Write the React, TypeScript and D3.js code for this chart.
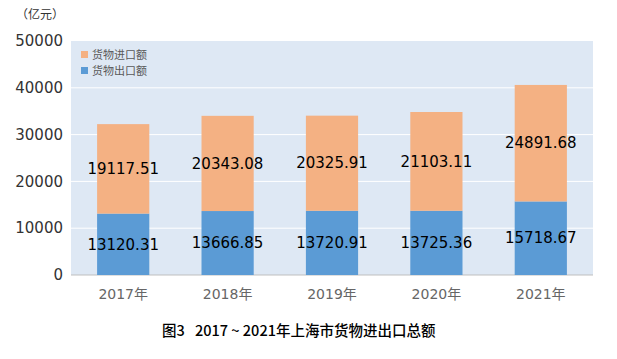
import React from "react";
import * as d3 from "d3";

const years = ["2017年", "2018年", "2019年", "2020年", "2021年"];
const exportVals = [13120.31, 13666.85, 13720.91, 13725.36, 15718.67];
const importVals = [19117.51, 20343.08, 20325.91, 21103.11, 24891.68];
const yTicks = [0, 10000, 20000, 30000, 40000, 50000];

const W = 617;
const H = 359;
const margin = { top: 41, right: 24, bottom: 84, left: 71 };

export default function App() {
  const x = d3
    .scaleBand()
    .domain(years)
    .range([margin.left, W - margin.right])
    .paddingInner(0.5)
    .paddingOuter(0.25);

  const y = d3
    .scaleLinear()
    .domain([0, 50000])
    .range([H - margin.bottom, margin.top]);

  const font = "'DejaVu Sans', 'Noto Sans CJK SC', sans-serif";
  const cjk = "'Noto Sans CJK SC', sans-serif";

  return (
    <svg
      width={W}
      height={H}
      style={{ position: "absolute", left: 0, top: 0, background: "#fff" }}
    >
      {/* plot background */}
      <rect
        x={margin.left}
        y={margin.top}
        width={W - margin.left - margin.right}
        height={H - margin.top - margin.bottom}
        fill="#dee8f4"
      />
      {yTicks.map((t) => (
        <g key={t}>
          {t > 0 && t < 50000 && (
            <line
              x1={margin.left}
              x2={W - margin.right}
              y1={y(t)}
              y2={y(t)}
              stroke="#fff"
              strokeWidth={1}
            />
          )}
          <text
            x={margin.left - 8}
            y={y(t)}
            dy="0.35em"
            textAnchor="end"
            fontFamily={font}
            fontSize={15}
            fill="#333"
          >
            {t}
          </text>
        </g>
      ))}
      <line
        x1={margin.left}
        x2={W - margin.right}
        y1={y(0)}
        y2={y(0)}
        stroke="#bfbfbf"
      />

      {years.map((yr, i) => {
        const bx = x(yr)!;
        const bw = x.bandwidth();
        const e = exportVals[i];
        const im = importVals[i];
        return (
          <g key={yr}>
            <rect x={bx} y={y(e)} width={bw} height={y(0) - y(e)} fill="#5b9bd5" />
            <rect
              x={bx}
              y={y(e + im)}
              width={bw}
              height={y(e) - y(e + im)}
              fill="#f4b183"
            />
            <text
              x={bx + bw / 2}
              y={(y(0) + y(e)) / 2}
              dy="0.35em"
              textAnchor="middle"
              fontFamily={font}
              fontSize={15}
              fill="#000"
            >
              {e.toFixed(2)}
            </text>
            <text
              x={bx + bw / 2}
              y={(y(e) + y(e + im)) / 2}
              dy="0.35em"
              textAnchor="middle"
              fontFamily={font}
              fontSize={15}
              fill="#000"
            >
              {im.toFixed(2)}
            </text>
            <text
              x={bx + bw / 2}
              y={y(0) + 19}
              dy="0.35em"
              textAnchor="middle"
              fontFamily={font}
              fontSize={14}
              fill="#666"
            >
              {yr}
            </text>
          </g>
        );
      })}

      {/* legend */}
      <rect x={81} y={51} width={7} height={7} fill="#f4b183" />
      <text x={92} y={55} dy="0.35em" fontFamily={cjk} fontSize={11} fill="#595959">
        货物进口额
      </text>
      <rect x={81} y={67} width={7} height={7} fill="#5b9bd5" />
      <text x={92} y={71} dy="0.35em" fontFamily={cjk} fontSize={11} fill="#595959">
        货物出口额
      </text>

      <text x={16} y={15} dy="0.35em" fontFamily={cjk} fontSize={12} fill="#333">
        （亿元）
      </text>

      <text
        x={162}
        y={331}
        dy="0.35em"
        fontFamily={cjk}
        fontSize={14.5}
        fontWeight={500}
        fill="#000"
      >
        图3
      </text>
      <text
        x={195}
        y={331}
        dy="0.35em"
        fontFamily={cjk}
        fontSize={14.5}
        fontWeight={500}
        fill="#000"
      >
        2017 ~ 2021年上海市货物进出口总额
      </text>
    </svg>
  );
}
